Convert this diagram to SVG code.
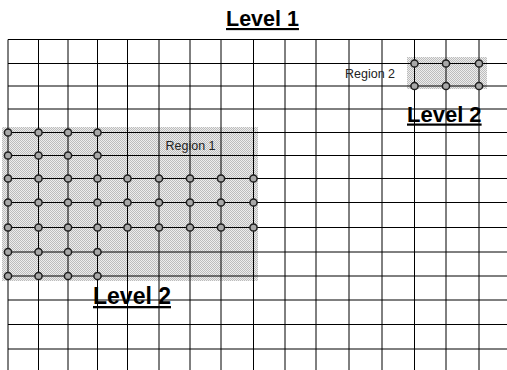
<svg xmlns="http://www.w3.org/2000/svg" width="507" height="370" viewBox="0 0 507 370">
<style>
.grid line{stroke:#000;stroke-width:1;fill:none}
.node{fill:#a8a8a8;stroke:#1e1e1e;stroke-width:1.5}
.lvl{font-family:"Liberation Sans",Arial,sans-serif;font-weight:bold;fill:#000;text-decoration:underline}
.reg{font-family:"Liberation Sans",Arial,sans-serif;font-size:12.5px;fill:#222}
</style>
<defs>
<pattern id="stip" width="2" height="2" patternUnits="userSpaceOnUse">
<rect width="2" height="2" fill="#ededed"/>
<rect width="1" height="1" fill="#bcbcbc"/>
<rect x="1" y="1" width="1" height="1" fill="#bcbcbc"/>
</pattern>
</defs>
<rect width="507" height="370" fill="#fff"/>
<g id="region1-area"><rect x="2" y="127" width="256" height="154" fill="url(#stip)"/></g>
<g id="region2-area"><rect x="407" y="57" width="80" height="32" fill="url(#stip)"/></g>
<g id="connectors" class="grid">
<line x1="8" y1="39.5" x2="8" y2="370"/>
<line x1="38.5" y1="39.5" x2="38.5" y2="370"/>
<line x1="68" y1="39.5" x2="68" y2="370"/>
<line x1="97.5" y1="39.5" x2="97.5" y2="370"/>
<line x1="127.5" y1="39.5" x2="127.5" y2="370"/>
<line x1="159" y1="39.5" x2="159" y2="370"/>
<line x1="190" y1="39.5" x2="190" y2="370"/>
<line x1="221" y1="39.5" x2="221" y2="370"/>
<line x1="253.5" y1="39.5" x2="253.5" y2="370"/>
<line x1="285" y1="39.5" x2="285" y2="370"/>
<line x1="316" y1="39.5" x2="316" y2="370"/>
<line x1="349" y1="39.5" x2="349" y2="370"/>
<line x1="382" y1="39.5" x2="382" y2="370"/>
<line x1="414.5" y1="39.5" x2="414.5" y2="370"/>
<line x1="446" y1="39.5" x2="446" y2="370"/>
<line x1="479" y1="39.5" x2="479" y2="370"/>
<line x1="8" y1="39.5" x2="507" y2="39.5"/>
<line x1="8" y1="63.5" x2="507" y2="63.5"/>
<line x1="8" y1="86" x2="507" y2="86"/>
<line x1="8" y1="109" x2="507" y2="109"/>
<line x1="8" y1="132.5" x2="507" y2="132.5"/>
<line x1="8" y1="155.5" x2="507" y2="155.5"/>
<line x1="8" y1="178.5" x2="507" y2="178.5"/>
<line x1="8" y1="202.5" x2="507" y2="202.5"/>
<line x1="8" y1="227.5" x2="507" y2="227.5"/>
<line x1="8" y1="252" x2="507" y2="252"/>
<line x1="8" y1="276" x2="507" y2="276"/>
<line x1="8" y1="300" x2="507" y2="300"/>
<line x1="8" y1="324.5" x2="507" y2="324.5"/>
<line x1="8" y1="349" x2="507" y2="349"/>
</g>
<g id="region1-nodes">
<circle class="node" cx="8" cy="132.5" r="3.6"/><circle class="node" cx="38.5" cy="132.5" r="3.6"/><circle class="node" cx="68" cy="132.5" r="3.6"/><circle class="node" cx="97.5" cy="132.5" r="3.6"/>
<circle class="node" cx="8" cy="155.5" r="3.6"/><circle class="node" cx="38.5" cy="155.5" r="3.6"/><circle class="node" cx="68" cy="155.5" r="3.6"/><circle class="node" cx="97.5" cy="155.5" r="3.6"/>
<circle class="node" cx="8" cy="178.5" r="3.6"/><circle class="node" cx="38.5" cy="178.5" r="3.6"/><circle class="node" cx="68" cy="178.5" r="3.6"/><circle class="node" cx="97.5" cy="178.5" r="3.6"/><circle class="node" cx="127.5" cy="178.5" r="3.6"/><circle class="node" cx="159" cy="178.5" r="3.6"/><circle class="node" cx="190" cy="178.5" r="3.6"/><circle class="node" cx="221" cy="178.5" r="3.6"/><circle class="node" cx="253.5" cy="178.5" r="3.6"/>
<circle class="node" cx="8" cy="202.5" r="3.6"/><circle class="node" cx="38.5" cy="202.5" r="3.6"/><circle class="node" cx="68" cy="202.5" r="3.6"/><circle class="node" cx="97.5" cy="202.5" r="3.6"/><circle class="node" cx="127.5" cy="202.5" r="3.6"/><circle class="node" cx="159" cy="202.5" r="3.6"/><circle class="node" cx="190" cy="202.5" r="3.6"/><circle class="node" cx="221" cy="202.5" r="3.6"/><circle class="node" cx="253.5" cy="202.5" r="3.6"/>
<circle class="node" cx="8" cy="227.5" r="3.6"/><circle class="node" cx="38.5" cy="227.5" r="3.6"/><circle class="node" cx="68" cy="227.5" r="3.6"/><circle class="node" cx="97.5" cy="227.5" r="3.6"/><circle class="node" cx="127.5" cy="227.5" r="3.6"/><circle class="node" cx="159" cy="227.5" r="3.6"/><circle class="node" cx="190" cy="227.5" r="3.6"/><circle class="node" cx="221" cy="227.5" r="3.6"/><circle class="node" cx="253.5" cy="227.5" r="3.6"/>
<circle class="node" cx="8" cy="252" r="3.6"/><circle class="node" cx="38.5" cy="252" r="3.6"/><circle class="node" cx="68" cy="252" r="3.6"/><circle class="node" cx="97.5" cy="252" r="3.6"/>
<circle class="node" cx="8" cy="276" r="3.6"/><circle class="node" cx="38.5" cy="276" r="3.6"/><circle class="node" cx="68" cy="276" r="3.6"/><circle class="node" cx="97.5" cy="276" r="3.6"/>
</g>
<g id="region2-nodes">
<circle class="node" cx="414.5" cy="63.5" r="3.6"/><circle class="node" cx="446" cy="63.5" r="3.6"/><circle class="node" cx="479" cy="63.5" r="3.6"/>
<circle class="node" cx="414.5" cy="86" r="3.6"/><circle class="node" cx="446" cy="86" r="3.6"/><circle class="node" cx="479" cy="86" r="3.6"/>
</g>
<g id="labels">
<text class="lvl" x="262.5" y="26" font-size="21.5" text-anchor="middle">Level 1</text>
<text class="reg" x="165.5" y="150">Region 1</text>
<text class="reg" x="345" y="78">Region 2</text>
<text class="lvl" x="407" y="121.5" font-size="22">Level 2</text>
<text class="lvl" x="93" y="304" font-size="23">Level 2</text>
</g>
</svg>
